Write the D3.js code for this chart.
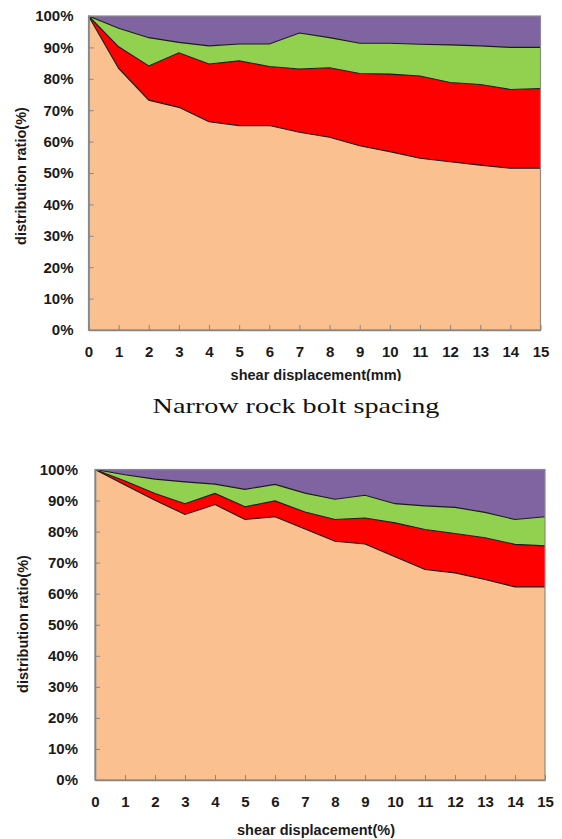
<!DOCTYPE html>
<html>
<head>
<meta charset="utf-8">
<script src="https://cdn.jsdelivr.net/npm/d3@7"></script>
<style>
  body { margin: 0; background: #fff; }
  svg { display: block; }
  .axis text { font-family: "Liberation Sans", Arial, sans-serif; font-weight: bold; font-size: 15px; fill: #1a1a1a; }
  .axis path, .axis line { stroke: #868686; }
  .title { font-family: "Liberation Sans", Arial, sans-serif; font-weight: bold; font-size: 14.5px; fill: #1a1a1a; }
</style>
</head>
<body>
<script>
// x categories (shear displacement)
var displacement = [0, 1, 2, 3, 4, 5, 6, 7, 8, 9, 10, 11, 12, 13, 14, 15];
var yTicks = [0, 10, 20, 30, 40, 50, 60, 70, 80, 90, 100];
var layerKeys = ["s1", "s2", "s3", "s4"];
var layerColors = ["#FAC090", "#FF0000", "#92D050", "#8064A2"];

// narrow spacing chart, share of each layer (%)
var narrowS1 = [100, 83.3, 73.2, 70.9, 66.3, 65.1, 65.1, 63.0, 61.4, 58.7, 56.8, 54.7, 53.6, 52.5, 51.5, 51.5];
var narrowS2 = [0, 6.9, 10.9, 17.4, 18.4, 20.6, 18.8, 20.1, 22.1, 23.0, 24.7, 26.2, 25.2, 25.7, 25.1, 25.4];
var narrowS3 = [0, 5.9, 9.0, 3.3, 5.8, 5.4, 7.2, 11.5, 9.6, 9.6, 9.8, 10.1, 12.0, 12.3, 13.4, 13.1];
var narrowS4 = [0, 3.9, 6.9, 8.4, 9.5, 8.9, 8.9, 5.4, 6.9, 8.7, 8.7, 9.0, 9.2, 9.5, 10.0, 10.0];

// second chart
var wideS1 = [100, 95.0, 90.1, 85.5, 88.7, 83.9, 84.8, 80.8, 76.9, 76.0, 71.9, 67.8, 66.7, 64.6, 62.2, 62.2];
var wideS2 = [0, 1.3, 2.2, 3.5, 3.6, 4.1, 5.1, 5.5, 7.0, 8.4, 10.9, 12.9, 12.7, 13.4, 13.7, 13.2];
var wideS3 = [0, 2.0, 4.6, 7.0, 3.0, 5.6, 5.3, 6.1, 6.5, 7.3, 6.2, 7.6, 8.4, 8.2, 8.0, 9.4];
var wideS4 = [0, 1.7, 3.1, 4.0, 4.7, 6.4, 4.8, 7.6, 9.6, 8.3, 11.0, 11.7, 12.2, 13.8, 16.1, 15.2];

var svg = d3.select("body").append("svg")
    .attr("width", 562)
    .attr("height", 839);

function toRows(a, b, c, d) {
    return displacement.map(function(x, i) {
        return { x: x, s1: a[i], s2: b[i], s3: c[i], s4: d[i] };
    });
}

function drawChart(cfg) {
    var g = svg.append("g");
    if (cfg.clipY) {
        svg.append("clipPath").attr("id", cfg.id)
            .append("rect").attr("x", 0).attr("y", 0).attr("width", 562).attr("height", cfg.clipY);
        g.attr("clip-path", "url(#" + cfg.id + ")");
    }

    var x = d3.scaleLinear().domain([0, 15]).range([cfg.left, cfg.right]);
    var y = d3.scaleLinear().domain([0, 100]).range([cfg.bottom, cfg.top]);

    var stacked = d3.stack().keys(layerKeys)(cfg.rows);

    var area = d3.area()
        .x(function(d) { return x(d.data.x); })
        .y0(function(d) { return y(d[0]); })
        .y1(function(d) { return y(d[1]); });

    g.selectAll(".layer")
        .data(stacked)
        .enter().append("path")
        .attr("class", "layer")
        .attr("d", area)
        .style("fill", function(d, i) { return layerColors[i]; });

    // dark outline on the top of each layer
    var edge = d3.line()
        .x(function(d) { return x(d.data.x); })
        .y(function(d) { return y(d[1]); });
    g.selectAll(".edge")
        .data(stacked.slice(0, 3))
        .enter().append("path")
        .attr("class", "edge")
        .attr("d", edge)
        .style("fill", "none")
        .style("stroke", "#1a1a1a")
        .style("stroke-width", 1.1);

    // plot border
    g.append("rect")
        .attr("x", cfg.left).attr("y", cfg.top)
        .attr("width", cfg.right - cfg.left).attr("height", cfg.bottom - cfg.top)
        .style("fill", "none").style("stroke", "#8a8a8a").style("stroke-width", 1.2);

    g.append("g").attr("class", "axis")
        .attr("transform", "translate(" + cfg.left + ",0)")
        .call(d3.axisLeft(y).tickValues(yTicks)
            .tickFormat(function(d) { return d + "%"; })
            .tickSizeInner(-5).tickSizeOuter(0).tickPadding(cfg.yPad))
        .call(function(a) { a.select(".domain").style("stroke-width", 1.6); });

    g.append("g").attr("class", "axis")
        .attr("transform", "translate(0," + cfg.bottom + ")")
        .call(d3.axisBottom(x).tickValues(displacement)
            .tickSizeInner(-5).tickSizeOuter(0).tickPadding(16))
        .call(function(a) { a.select(".domain").style("stroke-width", 1.6); });

    g.append("text").attr("class", "title")
        .attr("x", 316).attr("y", cfg.xTitleY)
        .attr("text-anchor", "middle")
        .text(cfg.xTitle);

    g.append("text").attr("class", "title")
        .attr("transform", "translate(" + cfg.yTitleX + "," + cfg.yTitleY + ") rotate(-90)")
        .attr("text-anchor", "middle")
        .attr("dy", "0.35em")
        .text("distribution ratio(%)");
}

drawChart({
    id: "clipTop",
    rows: toRows(narrowS1, narrowS2, narrowS3, narrowS4),
    left: 88.5, right: 540.5, top: 16, bottom: 330,
    yPad: 15, xTitle: "shear displacement(mm)", xTitleY: 380, clipY: 381,
    yTitleX: 21, yTitleY: 176
});

drawChart({
    id: "clipBottom",
    rows: toRows(wideS1, wideS2, wideS3, wideS4),
    left: 95, right: 545, top: 469.5, bottom: 780,
    yPad: 17, xTitle: "shear displacement(%)", xTitleY: 835, clipY: null,
    yTitleX: 23, yTitleY: 624
});

// caption under the first chart
svg.append("g")
    .attr("transform", "translate(296,413) scale(1.28,1)")
    .append("text")
    .attr("text-anchor", "middle")
    .style("font-family", "'Liberation Serif', 'Times New Roman', serif")
    .style("font-size", "22px")
    .style("fill", "#111")
    .text("Narrow rock bolt spacing");
</script>
</body>
</html>
